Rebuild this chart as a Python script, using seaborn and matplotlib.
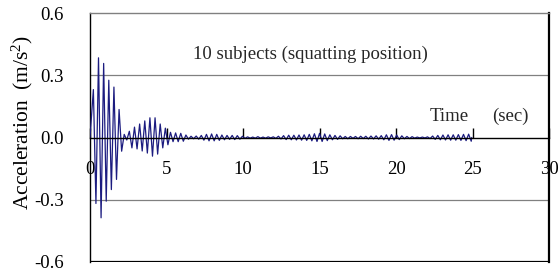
import numpy as np
import seaborn as sns
import matplotlib.pyplot as plt

sns.set_theme(style="white")
plt.rcParams['font.family'] = ['Liberation Serif', 'DejaVu Serif']
plt.rcParams['mathtext.fontset'] = 'custom'
plt.rcParams['mathtext.rm'] = 'Liberation Serif'
plt.rcParams['mathtext.default'] = 'regular'

t_first = 0.22      # time of first extremum (sec)
half_period = 0.168 # sec between successive extrema
t_end = 24.95
peaks = [
    0.231, -0.318, 0.384, -0.387, 0.357, -0.307, 0.276, -0.251, 0.243, -0.202, 0.135, -0.066,
    0.015, -0.012, 0.030, -0.050, 0.050, -0.055, 0.065, -0.065, 0.080, -0.075, 0.095, -0.090,
    0.095, -0.080, 0.065, -0.050, 0.045, -0.035,
    0.025, -0.020, 0.022, -0.020, 0.020, -0.018,
    0.012, -0.008, 0.006, -0.006, 0.007, -0.008, 0.010,
    -0.013, 0.015, -0.016, 0.017, -0.016, 0.015, -0.014, 0.012, -0.011,
    0.010, -0.009, 0.010, -0.010, 0.009, -0.008, 0.006,
    -0.004, 0.003, -0.003, 0.002, -0.003, 0.004, -0.003, 0.002, -0.003, 0.003, -0.002, 0.003,
    -0.004, 0.006, -0.007, 0.009, -0.010, 0.011, -0.011,
    0.011, -0.012, 0.012, -0.013, 0.013, -0.014, 0.015, -0.016,
    0.018, -0.019, 0.020, -0.019, 0.017, -0.015, 0.013,
    -0.011, 0.010, -0.009, 0.008,
    -0.006, 0.005, -0.006, 0.005, -0.004, 0.005, -0.006, 0.006, -0.005, 0.006, -0.007, 0.007,
    -0.007, 0.008, -0.008,
    0.009, -0.011, 0.013, -0.014, 0.014, -0.013, 0.012, -0.010,
    0.008, -0.006, 0.005, -0.005, 0.004,
    -0.003, 0.002, -0.002, 0.002,
    -0.002, 0.003, -0.005, 0.007, -0.009, 0.010,
    -0.011, 0.012, -0.012, 0.013, -0.013, 0.013, -0.013, 0.014, -0.014, 0.015, -0.015, 0.016,
    -0.018,
]
x_ticks = [0, 5, 10, 15, 20, 25, 30]
y_ticks = [-0.6, -0.3, 0.0, 0.3, 0.6]

sig_t = np.concatenate([[0.0], t_first + half_period * np.arange(len(peaks)), [t_end]])
sig_v = np.array([0.0] + peaks + [0.0])

fs = 13.5
fig = plt.figure(figsize=(5.6, 2.75), dpi=100)
ax = fig.add_axes([90 / 560, 1 - 262 / 275, 459 / 560, 249 / 275])

for g in (0.3, -0.3):
    ax.axhline(g, color='#808080', lw=0.9, zorder=1)

sns.lineplot(x=sig_t, y=sig_v, ax=ax, color='#1c1c80', linewidth=0.9, sort=False, zorder=3)

ax.set_xlim(0, 30)
ax.set_ylim(-0.6, 0.6)
ax.set_xticks(x_ticks)
ax.set_xticklabels([str(v) for v in x_ticks])
ax.set_yticks(y_ticks)
ax.set_yticklabels([f'{v:.1f}' for v in y_ticks])

# x axis crosses at zero, frame around the plot area
ax.spines['bottom'].set_position(('data', 0))
ax.spines['bottom'].set_zorder(4)
for s in ('left', 'right', 'top', 'bottom'):
    ax.spines[s].set_color('black')
    ax.spines[s].set_linewidth(1.0)
ax.axhline(-0.6, color='black', lw=1.6, zorder=4)
ax.spines['right'].set_linewidth(1.6)
ax.spines['top'].set_color('#808080')

ax.tick_params(axis='x', direction='in', length=7, width=1, pad=17, labelsize=fs,
               colors='black', bottom=True)
ax.tick_params(axis='y', length=0, pad=19, labelsize=fs, colors='black')
ax.grid(False)

ax.set_ylabel('Acceleration  (m/s$^{2}$)', fontsize=15.5, color='black')
ax.yaxis.set_label_coords(-0.119, 0.56)
ax.set_xlabel('')

ax.text(14.4, 0.40, '10 subjects (squatting position)', ha='center', va='center', fontsize=fs)
ax.text(23.5, 0.10, 'Time', ha='center', va='center', fontsize=fs)
ax.text(27.5, 0.10, '(sec)', ha='center', va='center', fontsize=fs)

fig.savefig('out.png', dpi=100)
